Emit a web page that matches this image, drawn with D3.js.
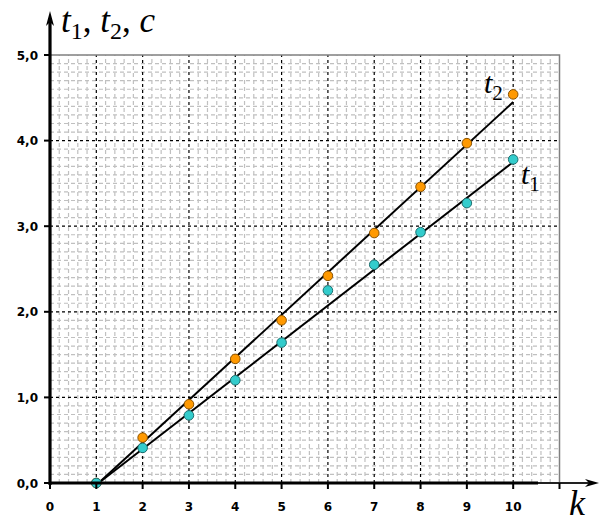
<!DOCTYPE html>
<html><head><meta charset="utf-8">
<script src="https://cdn.jsdelivr.net/npm/d3@7/dist/d3.min.js"></script>
<style>body{margin:0;background:#fff}svg{display:block}</style>
</head><body><svg id="c" width="603" height="524"></svg>
<script>
const kValues = [1,2,3,4,5,6,7,8,9,10];
const t1Values = [0,0.41,0.79,1.20,1.64,2.25,2.55,2.93,3.27,3.78];
const t2Values = [0,0.53,0.92,1.45,1.90,2.42,2.92,3.46,3.97,4.54];
const fitT1 = [[1.05,0],[10,3.75]];
const fitT2 = [[1.05,0],[10,4.45]];
const xTicks = [0,1,2,3,4,5,6,7,8,9,10];
const yTicks = [0,1,2,3,4,5];
const yTickLabels = ["0,0","1,0","2,0","3,0","4,0","5,0"];

const svg = d3.select("#c");
const x = d3.scaleLinear().domain([0,11]).range([50,559.5]);
const y = d3.scaleLinear().domain([0,5]).range([483,55]);

// minor grid
const g = svg.append("g");
const xMinor = d3.range(0,11.001,0.2).filter(v=>Math.abs(v-Math.round(v))>1e-6);
const yMinor = d3.range(0,5.001,0.1).filter(v=>Math.abs(v-Math.round(v))>1e-6);
g.selectAll(".vm").data(xMinor).join("line")
 .attr("x1",d=>x(d)).attr("x2",d=>x(d)).attr("y1",y(0)).attr("y2",y(5))
 .attr("stroke","#c0c0c0").attr("stroke-width",1.2).attr("stroke-dasharray","4,3");
g.selectAll(".hm").data(yMinor).join("line")
 .attr("x1",x(0)).attr("x2",x(11)).attr("y1",d=>y(d)).attr("y2",d=>y(d))
 .attr("stroke","#c0c0c0").attr("stroke-width",1.2).attr("stroke-dasharray","4,3");
// major grid
g.selectAll(".vM").data(d3.range(1,11)).join("line")
 .attr("x1",d=>x(d)).attr("x2",d=>x(d)).attr("y1",y(0)).attr("y2",y(5))
 .attr("stroke","#000").attr("stroke-width",1.2).attr("stroke-dasharray","3,3");
g.selectAll(".hM").data([1,2,3,4]).join("line")
 .attr("x1",x(0)).attr("x2",x(11)).attr("y1",d=>y(d)).attr("y2",d=>y(d))
 .attr("stroke","#000").attr("stroke-width",1.2).attr("stroke-dasharray","3,3");
// plot border (top/right)
svg.append("path").attr("d",`M${x(0)},${y(5)}H${x(11)}V${y(0)}`)
 .attr("fill","none").attr("stroke","#808080").attr("stroke-width",1.5);

// fit lines
const line = d3.line().x(d=>x(d[0])).y(d=>y(d[1]));
[fitT1,fitT2].forEach(f=>svg.append("path").attr("d",line(f))
 .attr("fill","none").attr("stroke","#000").attr("stroke-width",2));

// points
svg.selectAll(".p2").data(kValues).join("circle")
 .attr("cx",d=>x(d)).attr("cy",(d,i)=>y(t2Values[i])).attr("r",4.8)
 .attr("fill","#ff9900").attr("stroke","#8a5200").attr("stroke-width",1);
svg.selectAll(".p1").data(kValues).join("circle")
 .attr("cx",d=>x(d)).attr("cy",(d,i)=>y(t1Values[i])).attr("r",4.8)
 .attr("fill","#33cccc").attr("stroke","#1d6e6e").attr("stroke-width",1);

// axes
svg.append("line").attr("x1",x(0)).attr("x2",538).attr("y1",y(0)).attr("y2",y(0))
 .attr("stroke","#000").attr("stroke-width",3);
svg.append("line").attr("x1",538).attr("x2",592).attr("y1",y(0)).attr("y2",y(0))
 .attr("stroke","#222").attr("stroke-width",1.8);
svg.append("path").attr("d",`M599,${y(0)}L585,${y(0)-4}L589,${y(0)}L585,${y(0)+4}Z`).attr("fill","#000");
svg.append("line").attr("x1",x(0)).attr("x2",x(0)).attr("y1",y(0)+2).attr("y2",18)
 .attr("stroke","#000").attr("stroke-width",3.2);
svg.append("path").attr("d",`M${x(0)},11L${x(0)-4},26L${x(0)},22L${x(0)+4},26Z`).attr("fill","#000");

// x ticks
const tickFont = "DejaVu Sans, Verdana, sans-serif";
svg.selectAll(".xt").data(d3.range(0,12)).join("line")
 .attr("x1",d=>x(d)).attr("x2",d=>x(d)).attr("y1",y(0)).attr("y2",y(0)+6)
 .attr("stroke","#000").attr("stroke-width",2);
svg.selectAll(".xl").data(xTicks).join("text")
 .attr("x",d=>x(d)).attr("y",511).attr("text-anchor","middle")
 .attr("font-family",tickFont).attr("font-weight","bold").attr("font-size",12)
 .text(d=>d);
// y ticks
svg.selectAll(".yt").data(yTicks).join("line")
 .attr("x1",x(0)-6).attr("x2",x(0)).attr("y1",d=>y(d)).attr("y2",d=>y(d))
 .attr("stroke","#000").attr("stroke-width",2);
svg.selectAll(".yl").data(yTicks).join("text")
 .attr("x",38).attr("y",d=>y(d)+4.5).attr("text-anchor","end")
 .attr("font-family",tickFont).attr("font-weight","bold").attr("font-size",12)
 .text((d,i)=>yTickLabels[i]);

// math labels
const serif = "Liberation Serif, Times New Roman, serif";
function tLabel(px, py, sub, size){
  const t = svg.append("text").attr("x",px).attr("y",py).attr("font-family",serif).attr("font-size",size);
  t.append("tspan").attr("font-style","italic").text("t");
  t.append("tspan").attr("font-size",size*0.7).attr("dy",size*0.22).text(sub);
  return t;
}
const title = svg.append("text").attr("x",61).attr("y",32).attr("font-family",serif).attr("font-size",35);
title.append("tspan").attr("font-style","italic").text("t");
title.append("tspan").attr("font-size",24).attr("dy",7).text("1");
title.append("tspan").attr("dy",-7).text(", ");
title.append("tspan").attr("font-style","italic").text("t");
title.append("tspan").attr("font-size",24).attr("dy",7).text("2");
title.append("tspan").attr("dy",-7).text(", ");
title.append("tspan").attr("font-style","italic").text("c");

tLabel(484, 93, "2", 30);
tLabel(521, 184, "1", 30);
svg.append("text").attr("x",569).attr("y",515).attr("font-family",serif).attr("font-size",36)
 .attr("font-style","italic").text("k");
</script></body></html>
